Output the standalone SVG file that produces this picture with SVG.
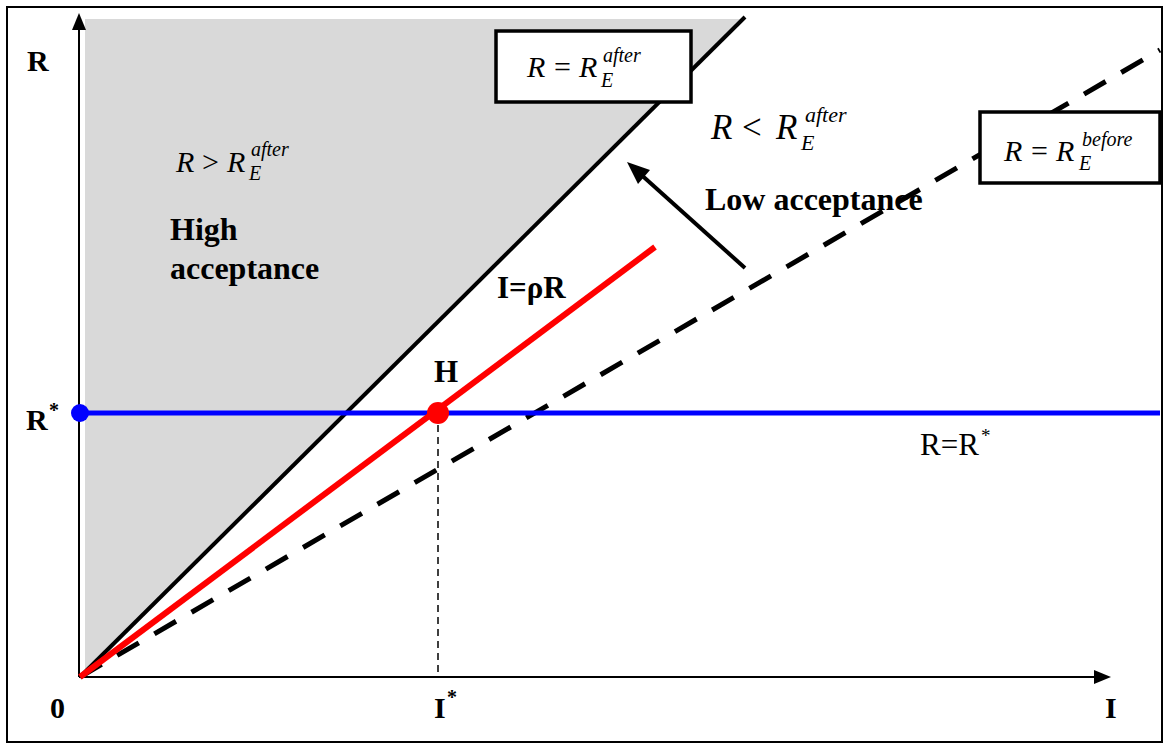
<svg xmlns="http://www.w3.org/2000/svg" width="1169" height="749" viewBox="0 0 1169 749">
<style>
.b{font-family:"Liberation Serif","Times New Roman",serif;font-weight:bold;fill:#000}
.m{font-family:"Liberation Serif","Times New Roman",serif;font-style:italic;fill:#000}
.n{font-family:"Liberation Serif","Times New Roman",serif;fill:#000}
.box{fill:#fff;stroke:#000;stroke-width:3.5}
</style>
<rect x="0" y="0" width="1169" height="749" fill="#fff"/>
<rect x="7" y="7" width="1155" height="735" fill="none" stroke="#000" stroke-width="2"/>
<polygon points="85,19 745,19 85,672" fill="#d9d9d9"/>
<g id="connectors">
<line x1="79" y1="677" x2="79" y2="28" stroke="#000" stroke-width="2"/>
<path d="M79,13 L72,30 L86,30 Z" fill="#000"/>
<line x1="79" y1="677" x2="1097" y2="677" stroke="#000" stroke-width="2"/>
<path d="M1111,677 L1094,670 L1094,684 Z" fill="#000"/>
<line x1="80" y1="677" x2="745" y2="17" stroke="#000" stroke-width="4"/>
<line x1="80" y1="677" x2="1160" y2="50" stroke="#000" stroke-width="5" stroke-dasharray="25,18"/>
<line x1="438" y1="413" x2="438" y2="677" stroke="#000" stroke-width="1.5" stroke-dasharray="7,5"/>
<line x1="80" y1="413" x2="1160" y2="413" stroke="#0000ff" stroke-width="5"/>
<line x1="80" y1="677" x2="655" y2="247" stroke="#ff0000" stroke-width="6"/>
<line x1="745" y1="268" x2="637" y2="171" stroke="#000" stroke-width="4"/>
<path d="M627,162 L650,170 L638,184 Z" fill="#000"/>
</g>
<g id="pointR">
<circle cx="80" cy="413" r="9" fill="#0000ff"/>
</g>
<g id="pointH">
<circle cx="438" cy="413" r="11" fill="#ff0000"/>
<text class="b" x="434" y="382" font-size="31">H</text>
</g>
<g id="box-after">
<rect class="box" x="496" y="31" width="195" height="71"/>
<text class="m" x="527" y="77" font-size="30">R</text>
<text class="n" x="554" y="77" font-size="30">=</text>
<text class="m" x="579" y="77" font-size="30">R</text>
<text class="m" x="603" y="62" font-size="20">after</text>
<text class="m" x="601" y="87" font-size="20">E</text>
</g>
<g id="box-before">
<rect class="box" x="980" y="112" width="180" height="71"/>
<text class="m" x="1004" y="161" font-size="30">R</text>
<text class="n" x="1031" y="161" font-size="30">=</text>
<text class="m" x="1056" y="161" font-size="30">R</text>
<text class="m" x="1082" y="146" font-size="20">before</text>
<text class="m" x="1079" y="170" font-size="20">E</text>
</g>
<g id="region-high">
<text class="m" x="176" y="172" font-size="30">R</text>
<text class="n" x="202" y="172" font-size="30">&gt;</text>
<text class="m" x="227" y="172" font-size="30">R</text>
<text class="m" x="251" y="156" font-size="20">after</text>
<text class="m" x="249" y="180" font-size="20">E</text>
<text class="b" x="170" y="240" font-size="32">High</text>
<text class="b" x="170" y="279" font-size="32">acceptance</text>
</g>
<g id="region-low">
<text class="m" x="711" y="139" font-size="35">R</text>
<text class="n" x="742" y="139" font-size="35">&lt;</text>
<text class="m" x="776" y="139" font-size="35">R</text>
<text class="m" x="805" y="122" font-size="22">after</text>
<text class="m" x="801" y="150" font-size="22">E</text>
<text class="b" x="705" y="210" font-size="32">Low acceptance</text>
</g>
<g id="labels">
<text class="b" x="27" y="71" font-size="30">R</text>
<text class="b" x="26" y="430" font-size="30">R</text>
<text class="b" x="49" y="417" font-size="20">*</text>
<text class="b" x="50" y="718" font-size="30">0</text>
<text class="b" x="434" y="718" font-size="30">I</text>
<text class="b" x="447" y="704" font-size="20">*</text>
<text class="b" x="1105" y="718" font-size="30">I</text>
<text class="b" x="497" y="298" font-size="31">I=ρR</text>
<text class="n" x="920" y="455" font-size="31">R=R</text>
<text class="n" x="981" y="442" font-size="19">*</text>
</g>
</svg>
